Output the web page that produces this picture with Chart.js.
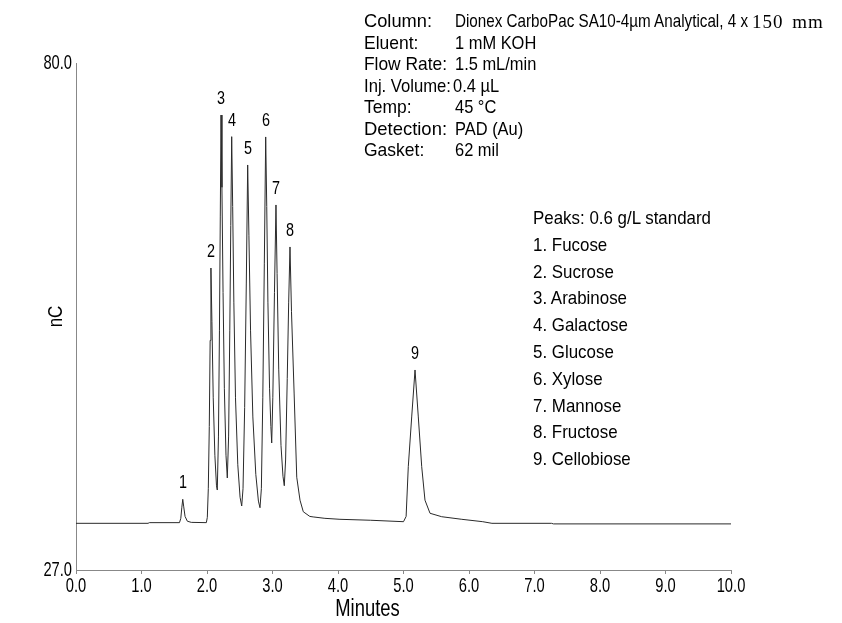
<!DOCTYPE html>
<html>
<head>
<meta charset="utf-8">
<script src="https://cdn.jsdelivr.net/npm/chart.js@4.4.0/dist/chart.umd.min.js"></script>
<style>
  html, body { margin: 0; padding: 0; background: #fff; }
  #wrap { position: relative; width: 842px; height: 623px; overflow: hidden; }
  #c { position: absolute; left: 0; top: 0; }
  .txt { position: absolute; white-space: nowrap; color: #000; transform-origin: left top;
         font-family: "Liberation Sans", Arial, sans-serif; font-size: 19px; line-height: 1; }
  .serif { position: absolute; white-space: nowrap; color: #000; transform-origin: left top;
           font-family: "Liberation Serif", "Times New Roman", serif; font-size: 19px; line-height: 1;
           letter-spacing: 1px; word-spacing: 3px; }
  .pk { position: absolute; white-space: nowrap; color: #000;
        font-family: "Liberation Sans", Arial, sans-serif; font-size: 18px; line-height: 1; }
</style>
</head>
<body>
<div id="wrap">
  <canvas id="c" width="842" height="623"></canvas>
</div>
<script>
// ---- data ----
const times = [
  0.00, 1.10, 1.12, 1.58, 1.60, 1.615, 1.63, 1.645, 1.665, 1.70, 1.76, 1.99,
  2.005, 2.02, 2.035, 2.048, 2.06, 2.075, 2.095, 2.12, 2.145, 2.157,
  2.175, 2.19, 2.203, 2.214, 2.228, 2.245, 2.265, 2.29, 2.31,
  2.33, 2.348, 2.363, 2.377, 2.392, 2.41, 2.435, 2.47, 2.505, 2.53,
  2.55, 2.575, 2.60, 2.621, 2.64, 2.665, 2.70, 2.745, 2.785, 2.809,
  2.83, 2.852, 2.875, 2.896, 2.912, 2.93, 2.955, 2.975, 2.988,
  3.005, 3.03, 3.053, 3.07, 3.095, 3.13, 3.16, 3.18,
  3.20, 3.225, 3.247, 3.267, 3.29, 3.33, 3.37, 3.42, 3.47, 3.57, 3.62, 3.80, 4.03, 4.50, 5.00,
  5.04, 5.073, 5.125, 5.176, 5.226, 5.278, 5.328, 5.405, 5.583, 5.89, 6.21, 6.35, 7.26, 7.29, 10.0
];
const signal = [
  31.88, 31.88, 31.95, 31.95, 32.4, 33.5, 34.39, 33.6, 32.6, 32.1, 31.98, 31.95,
  32.5, 35.5, 42.0, 51.0, 58.57, 53.0, 45.0, 39.0, 35.8, 35.36,
  41.0, 52.0, 64.0, 74.56, 67.0, 56.0, 46.0, 39.0, 36.62,
  41.0, 52.0, 63.0, 72.30, 65.0, 55.0, 45.0, 38.0, 34.6, 33.69,
  35.5, 44.0, 57.0, 69.34, 62.0, 52.0, 43.0, 37.0, 34.2, 33.51,
  35.5, 45.0, 59.0, 72.27, 65.0, 55.0, 46.0, 42.0, 40.28,
  45.0, 56.0, 65.16, 58.0, 48.0, 40.0, 36.8, 35.81,
  38.5, 47.0, 55.0, 60.77, 54.0, 45.5, 36.7, 34.3, 33.09, 32.6, 32.55, 32.4, 32.30, 32.2, 32.05,
  32.6, 37.8, 43.0, 47.91, 43.0, 37.8, 34.3, 32.93, 32.57, 32.30, 32.05, 31.88, 31.88, 31.82, 31.82
];
const yTicks = [27.0, 80.0];
const xTicks = [0, 1, 2, 3, 4, 5, 6, 7, 8, 9, 10];

const peakLabels  = ['1', '2', '3', '4', '5', '6', '7', '8', '9'];
const peakTimes   = [1.63, 2.06, 2.214, 2.377, 2.621, 2.896, 3.053, 3.267, 5.176];
const peakHeights = [34.39, 58.57, 74.56, 72.30, 69.34, 72.27, 65.16, 60.77, 47.91];

const condLabels = ['Column:', 'Eluent:', 'Flow Rate:', 'Inj. Volume:', 'Temp:', 'Detection:', 'Gasket:'];
const condValues = ['Dionex CarboPac SA10-4µm Analytical, 4 x', '1 mM KOH', '1.5 mL/min', '0.4 µL', '45 °C', 'PAD (Au)', '62 mil'];
const columnSize = '150 mm';

const peakListTitle = 'Peaks: 0.6 g/L standard';
const peakNames = ['Fucose', 'Sucrose', 'Arabinose', 'Galactose', 'Glucose', 'Xylose', 'Mannose', 'Fructose', 'Cellobiose'];

// ---- text blocks (HTML text, horizontally condensed like the original) ----
const wrap = document.getElementById('wrap');
function addText(text, x, y, k, cls) {
  const d = document.createElement('div');
  d.className = cls || 'txt';
  d.style.left = x + 'px';
  d.style.top = y + 'px';
  d.style.transform = 'scaleX(' + k + ')';
  d.textContent = text;
  wrap.appendChild(d);
  return d;
}
function fitWidth(d, w) {
  d.style.transform = 'none';
  const nat = d.getBoundingClientRect().width;
  d.style.transform = 'scaleX(' + (w / nat) + ')';
}
const labelWidths = { 'Column:': 68, 'Flow Rate:': 83, 'Inj. Volume:': 87, 'Detection:': 83 };
condLabels.forEach((t, i) => {
  const y = 11 + i * 21.5;
  const l = addText(t, 364, y, 0.92);
  if (labelWidths[t]) fitWidth(l, labelWidths[t]);
  const v = addText(condValues[i], i === 3 ? 453 : 455, y, 0.865);
  if (i === 0) {
    fitWidth(v, 293);
    addText(columnSize, 752, y + 1, 1, 'serif');
  }
});
addText(peakListTitle, 533, 208, 0.89);
peakNames.forEach((n, i) => addText((i + 1) + '. ' + n, 533, 208 + (i + 1) * 26.8, 0.89));

const peakDivs = peakLabels.map(l => {
  const d = document.createElement('div');
  d.className = 'pk';
  d.style.transform = 'translate(-50%, -50%) scaleX(0.8)';
  d.textContent = l;
  wrap.appendChild(d);
  return d;
});

const labelPlugin = {
  id: 'peakLabels',
  afterDraw(chart) {
    const xs = chart.scales.x, ys = chart.scales.y;
    peakDivs.forEach((d, i) => {
      d.style.left = xs.getPixelForValue(peakTimes[i]) + 'px';
      d.style.top = (ys.getPixelForValue(peakHeights[i]) - 17) + 'px';
    });
  }
};

// condensed canvas text (the original figure uses narrow lettering)
const canvas = document.getElementById('c');
const cctx = canvas.getContext('2d');
const origFill = cctx.fillText;
const condense = { 'Minutes': 0.8, 'nC': 0.85 };
const shiftX = { 'Minutes': -36 };
cctx.fillText = function (text, x, y, maxWidth) {
  const k = condense[text] !== undefined ? condense[text] : 0.7;
  this.save();
  this.translate(x + (shiftX[text] || 0), y);
  this.scale(k, 1);
  origFill.call(this, text, 0, 0);
  this.restore();
};

const fontFam = '"Liberation Sans", Arial, sans-serif';

new Chart(canvas, {
  type: 'line',
  data: {
    datasets: [{
      data: times.map((t, i) => ({ x: t, y: signal[i] })),
      borderColor: '#2a2a2a',
      borderWidth: 1,
      pointRadius: 0,
      tension: 0,
      fill: false
    }]
  },
  options: {
    responsive: false,
    animation: false,
    events: [],
    layout: { padding: { top: 63, right: 111, left: 0, bottom: 0 } },
    plugins: { legend: { display: false }, tooltip: { enabled: false } },
    scales: {
      x: {
        type: 'linear', min: 0, max: 10,
        afterFit(s) { s.height = 53; },
        afterBuildTicks(s) { s.ticks = xTicks.map(v => ({ value: v })); },
        ticks: { callback: v => Number(v).toFixed(1), color: '#000', padding: 0, maxRotation: 0, autoSkip: false,
                 font: { family: fontFam, size: 21 } },
        grid: { drawOnChartArea: false, drawTicks: true, tickLength: 4, color: '#888' },
        border: { display: true, color: '#888', width: 1 },
        title: { display: true, text: 'Minutes', color: '#000', font: { family: fontFam, size: 23 }, padding: { top: 0, bottom: 0 } }
      },
      y: {
        type: 'linear', min: 27, max: 80,
        afterFit(s) { s.width = 76; },
        afterBuildTicks(s) { s.ticks = yTicks.map(v => ({ value: v })); },
        ticks: { callback: v => Number(v).toFixed(1), color: '#000', padding: 4, font: { family: fontFam, size: 21 } },
        grid: { drawOnChartArea: false, drawTicks: false },
        border: { display: true, color: '#888', width: 1 },
        title: { display: true, text: 'nC', color: '#000', font: { family: fontFam, size: 20 }, padding: { top: 44, bottom: 0 } }
      }
    }
  },
  plugins: [labelPlugin]
});
</script>
</body>
</html>
